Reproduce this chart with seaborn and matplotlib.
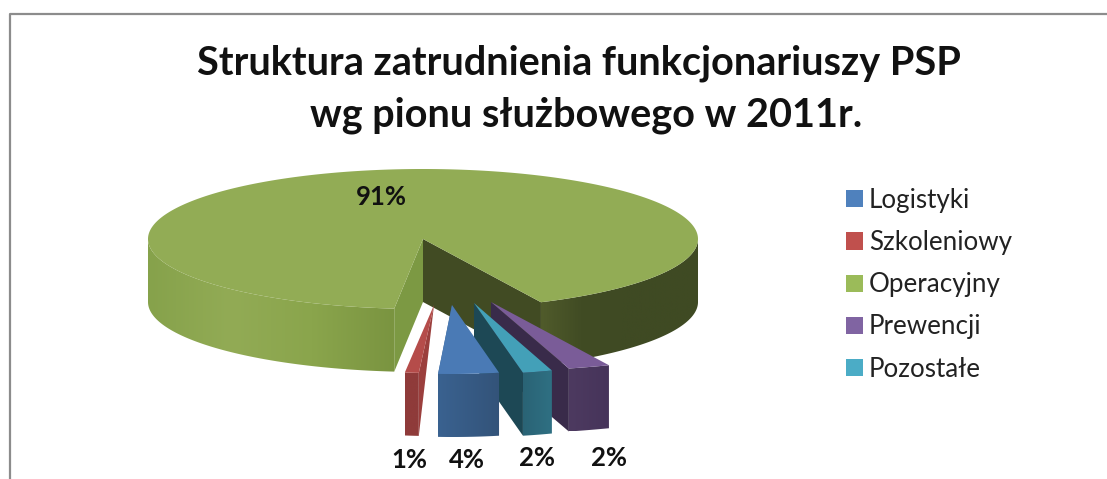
import numpy as np
import matplotlib
matplotlib.use('Agg')
import matplotlib.pyplot as plt
from matplotlib.colors import LinearSegmentedColormap
from matplotlib.patches import Patch, Polygon
import seaborn as sns

categories = ['Logistyki', 'Szkoleniowy', 'Operacyjny', 'Prewencji', 'Pozostałe']
values = [4, 1, 91, 2, 2]
value_labels = ['4%', '1%', '91%', '2%', '2%']
legend_colors = ['#4f81bd', '#c0504d', '#9bbb59', '#8064a2', '#4bacc6']
title_lines = ['Struktura zatrudnienia funkcjonariuszy PSP', 'wg pionu służbowego w 2011r.']

# pie geometry in image pixels
CX, CY, RX, RY = 423, 239, 275, 70
DEPTH = 63
START = 169  # clock angle where the first slice starts
LEFT_CUT_FIX = 1.0  # perspective correction on the near left cut of the big slice

# exploded slices: apex offset, rim offset, rim x scale, depth under the apex
OFFSETS = {
    'Logistyki': (29, 66, 29.5, 65, 0.887, DEPTH),
    'Szkoleniowy': (11, 66, 9, 64, 0.81, 0),
    'Prewencji': (68, 63, 38.5, 63, 1.25, DEPTH),
    'Pozostale': (51, 64, 54.5, 65, 0.866, DEPTH),
}
SHADES = {
    'Logistyki': ('#4a7ab5', '#3a6290', '#335379', '#3a6290'),
    'Szkoleniowy': ('#b54c4a', '#8f3b3a', '#8f3b3a', '#9b3f3d'),
    'Prewencji': ('#7a5c98', '#4d3a60', '#46345a', '#392b4a'),
    'Pozostale': ('#43a0b8', '#2a6375', '#2f7083', '#1d4855'),
}


def rim(a0, a1, cx=CX, cy=CY, n=200, scale=1.0):
    t = np.radians(np.linspace(a0, a1, n))
    return np.column_stack([cx + scale * RX * np.sin(t), cy - RY * np.cos(t)])


def grad_poly(ax, verts, colors, zorder):
    """Polygon filled with a left to right gradient"""
    verts = np.asarray(verts)
    cmap = LinearSegmentedColormap.from_list('g', colors)
    x0, x1 = verts[:, 0].min(), verts[:, 0].max()
    y0, y1 = verts[:, 1].min(), verts[:, 1].max()
    im = ax.imshow(np.linspace(0, 1, 256)[None, :], cmap=cmap, aspect='auto',
                   extent=(x0, x1, y1, y0), zorder=zorder, interpolation='bilinear')
    im.set_clip_path(Polygon(verts, closed=True, transform=ax.transData))


def wall(arc):
    return np.vstack([arc, (arc + [0, DEPTH])[::-1]])


def draw_slice(ax, name, a0, a1, zorder):
    adx, ady, rdx, rdy, scale, apex_depth = OFFSETS[name]
    top, front, front2, side = SHADES[name]
    apex = np.array([CX + adx, CY + ady])
    arc = rim(a0, a1, CX + rdx, CY + rdy, 30, scale)
    # the side wall that faces the viewer
    edge = arc[0] if arc[0, 0] < arc[-1, 0] else arc[-1]
    if name == 'Szkoleniowy':
        edge = arc[0]
    ax.add_patch(Polygon([apex, edge, edge + [0, DEPTH], apex + [0, apex_depth]],
                         fc=side, ec='none', zorder=zorder))
    grad_poly(ax, wall(arc), [front, front2], zorder + 0.1)
    ax.add_patch(Polygon(np.vstack([apex, arc]), fc=top, ec='none', zorder=zorder + 0.2))


def main():
    sns.set_theme(style='white')
    plt.rcParams['font.family'] = ['Lato', 'DejaVu Sans']

    fig = plt.figure(figsize=(11.07, 4.79), dpi=100)
    ax = fig.add_axes([0, 0, 1, 1])

    # clock angles of every slice, from the values
    edges = START + 3.6 * np.cumsum([0] + values)
    bounds = dict(zip(categories, zip(edges[:-1], edges[1:])))

    # big slice
    g0, g1 = bounds['Operacyjny']
    g0 = g0 - LEFT_CUT_FIX
    centre = np.array([CX, CY])
    grad_poly(ax, wall(rim(g1 - 360, 90)),
              ['#505b2b', '#414c24', '#3f4a23', '#3f4a23', '#3f4a23'], 1)
    ax.add_patch(Polygon([centre, rim(g1, g1, n=1)[0], rim(g1, g1, n=1)[0] + [0, DEPTH],
                          centre + [0, DEPTH]], fc='#414b23', ec='none', zorder=1.5))
    grad_poly(ax, wall(rim(g0, 270)), ['#86a24b', '#92ab55', '#8aa54c', '#7a9440'], 2)
    ax.add_patch(Polygon([centre, rim(g0, g0, n=1)[0], rim(g0, g0, n=1)[0] + [0, DEPTH],
                          centre + [0, DEPTH]], fc='#7c9943', ec='none', zorder=2.5))
    ax.add_patch(Polygon(np.vstack([centre, rim(g0, g1, n=500)]),
                         fc='#92ac55', ec='none', zorder=3))

    # exploded slices, back to front
    draw_slice(ax, 'Prewencji', *bounds['Prewencji'], 4)
    draw_slice(ax, 'Pozostale', *bounds['Pozostałe'], 5)
    draw_slice(ax, 'Szkoleniowy', *bounds['Szkoleniowy'], 6)
    draw_slice(ax, 'Logistyki', *bounds['Logistyki'], 7)

    # data labels
    label_pos = [(467, 460), (409, 460), (381, 197), (609, 458), (537, 458)]
    for text, (x, y) in zip(value_labels, label_pos):
        ax.text(x, y, text, fontsize=18.5, fontweight='bold', color='#111111',
                ha='center', va='center', zorder=10)

    for line, x, y in zip(title_lines, (578.5, 586.5), (63, 115)):
        ax.text(x, y, line, fontsize=28.5, fontweight='bold', color='#111111',
                ha='center', va='center', zorder=10)

    handles = [Patch(fc=c, ec='none', label=n) for n, c in zip(categories, legend_colors)]
    ax.legend(handles=handles, loc='upper left', bbox_to_anchor=(846, 188),
              bbox_transform=ax.transData, frameon=False, fontsize=18.7,
              handlelength=0.64, handleheight=0.64, handletextpad=0.25,
              labelspacing=0.66, borderpad=0, borderaxespad=0, labelcolor='#222222')

    # outer frame of the chart
    ax.plot([10, 10, 1107], [479, 14, 14], color='#8c8c8c', lw=1.6, zorder=11)

    ax.set_xlim(0, 1107)
    ax.set_ylim(479, 0)
    ax.axis('off')
    fig.savefig('out.png', dpi=100)


if __name__ == '__main__':
    main()
